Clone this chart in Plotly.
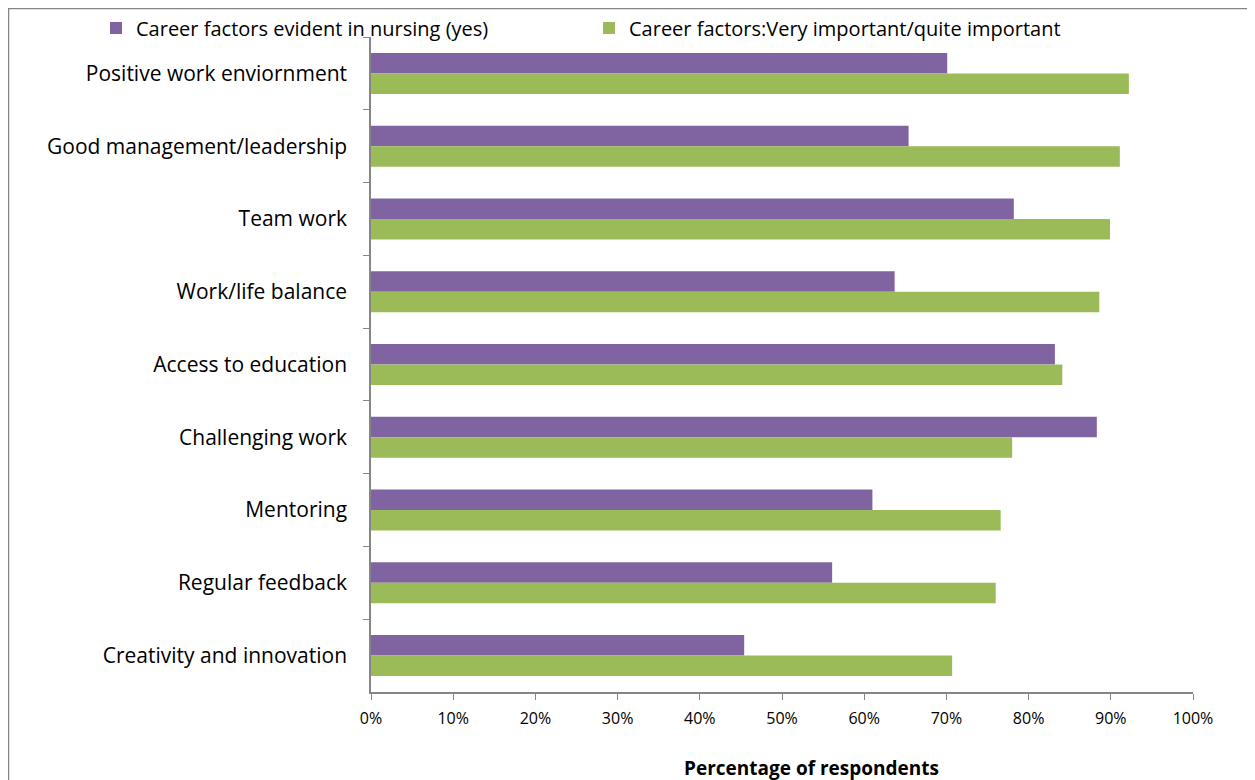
import plotly.graph_objects as go

categories = ["Positive work enviornment", "Good management/leadership", "Team work",
              "Work/life balance", "Access to education", "Challenging work",
              "Mentoring", "Regular feedback", "Creativity and innovation"]
evident_yes = [70.1, 65.4, 78.2, 63.7, 83.2, 88.3, 61.0, 56.1, 45.4]
important = [92.2, 91.1, 89.9, 88.6, 84.1, 78.0, 76.6, 76.0, 70.7]
tick_vals = list(range(0, 101, 10))
tick_text = [str(v) + "%" for v in tick_vals]

fnt = "Open Sans"
# page has an 8px body margin, so the plot area is placed 8px up/left of the target
L, R, T, B = 363, 70, 29, 96
pw, ph = 1255 - L - R, 780 - T - B

fig = go.Figure()
fig.add_trace(go.Bar(y=categories, x=evident_yes, orientation="h",
                     name="Career factors evident in nursing (yes)",
                     marker=dict(color="#8064A2", line=dict(width=0))))
fig.add_trace(go.Bar(y=categories, x=important, orientation="h",
                     name="Career factors:Very important/quite important",
                     marker=dict(color="#9BBB59", line=dict(width=0))))

fig.update_layout(
    width=1255, height=780,
    margin=dict(l=L, r=R, t=T, b=B, autoexpand=False),
    paper_bgcolor="white", plot_bgcolor="white",
    barmode="group", bargap=0.437, bargroupgap=0,
    font=dict(family=fnt, size=21, color="black"),
    legend=dict(orientation="h", x=(88 - L) / pw, xanchor="left",
                y=1 + (T - 20) / ph, yanchor="middle",
                entrywidth=448, entrywidthmode="pixels",
                font=dict(size=20), itemwidth=30, bgcolor="rgba(0,0,0,0)"),
    xaxis=dict(range=[0, 100], tickvals=tick_vals, ticktext=tick_text,
               showgrid=False, zeroline=False, showline=True, linecolor="#868686",
               linewidth=1.5, ticks="outside", ticklen=6, tickcolor="#868686",
               tickfont=dict(size=16), ticklabelstandoff=5, fixedrange=True),
    yaxis=dict(autorange="reversed", showgrid=False, showline=True, linecolor="#868686",
               linewidth=1.5, ticks="outside", ticklen=6, tickcolor="#868686",
               tickson="boundaries", ticklabelstandoff=18, tickfont=dict(size=21)),
    showlegend=True,
)

fig.add_annotation(text="<b>Percentage of respondents</b>", xref="paper", yref="paper",
                   x=(803 - L) / pw, y=-(760 - (T + ph)) / ph, xanchor="center", yanchor="middle",
                   showarrow=False, font=dict(size=19))

fig.add_shape(type="rect", xref="paper", yref="paper", x0=-(L - 0.5) / pw, x1=1 + (1245 - (L + pw)) / pw,
              y0=-0.2, y1=1 + (T - 0.5) / ph, line=dict(color="#868686", width=1.5),
              fillcolor="rgba(0,0,0,0)", layer="below")

fig.write_html("out.html")
